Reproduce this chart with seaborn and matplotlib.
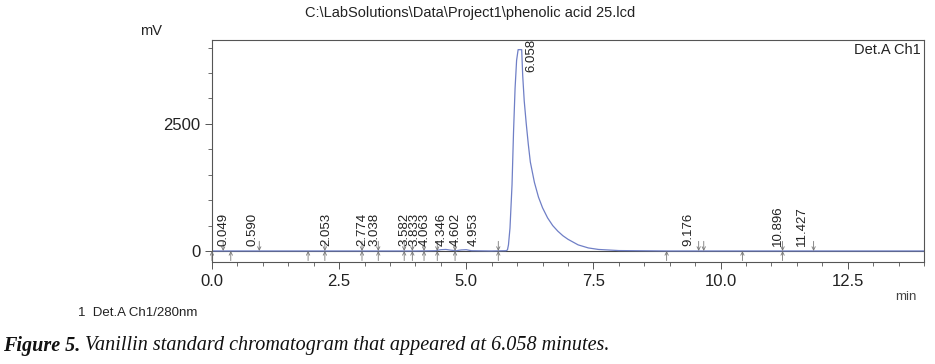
"""Vanillin standard chromatogram (Det.A Ch1, 280 nm) redrawn with seaborn."""

import matplotlib

matplotlib.use("Agg")
import matplotlib.pyplot as plt
import numpy as np
import pandas as pd
import seaborn as sns
from matplotlib.ticker import MultipleLocator

# ---------------------------------------------------------------------------
# Data
# ---------------------------------------------------------------------------
signal_time = [0.0, 0.5, 1.0, 2.0, 3.0, 4.0, 4.4, 4.5, 4.6, 4.7, 4.8, 4.9,
               5.0, 5.1, 5.5, 5.78, 5.81, 5.83, 5.86, 5.90, 5.93, 5.96, 5.99,
               6.02, 6.09, 6.11, 6.14, 6.18, 6.22, 6.26, 6.34, 6.42, 6.5,
               6.6, 6.7, 6.8, 6.9, 7.0, 7.2, 7.4, 7.6, 8.0, 9.0, 10.0, 11.0,
               12.0, 13.0, 14.0]
signal_mv = [0, 0, 0, 0, 0, 0, 5, 25, 30, 15, 5, 20, 25, 5, 0, 5, 20, 120,
             450, 1300, 2350, 3200, 3750, 3960, 3960, 3450, 2950, 2500, 2100,
             1750, 1350, 1060, 850, 650, 500, 390, 300, 230, 120, 60, 30, 8,
             0, 0, 0, 0, 0, 0]

peak_labels = ["0.049", "0.590", "2.053", "2.774", "3.038", "3.582", "3.833",
               "4.063", "4.346", "4.602", "4.953", "6.058", "9.176", "10.896",
               "11.427"]
label_x = [0.22, 0.80, 2.24, 2.95, 3.19, 3.78, 3.98, 4.19, 4.51, 4.80, 5.14,
           6.28, 9.37, 11.12, 11.61]
label_y = [90, 90, 90, 90, 90, 90, 90, 90, 90, 90, 90, 3520, 90, 90, 90]

# integration marks: peak markers (down) and start/end markers (up)
down_marks = [0.22, 0.93, 2.22, 2.95, 3.27, 3.78, 3.94, 4.17, 4.43, 4.78,
              5.63, 9.57, 9.67, 11.22, 11.83]
up_marks = [0.0, 0.37, 1.89, 2.22, 2.95, 3.27, 3.78, 3.94, 4.17, 4.43, 4.78,
            5.63, 8.94, 10.43, 11.22]

title = r"C:\LabSolutions\Data\Project1\phenolic acid 25.lcd"
caption_bold = "Figure 5."
caption_text = " Vanillin standard chromatogram that appeared at 6.058 minutes."

SIGNAL_COLOR = "#6f7fc6"
MARK_COLOR = "#777777"

sns.set_style("ticks")
plt.rcParams["font.family"] = ["Liberation Sans", "DejaVu Sans"]

fig = plt.figure(figsize=(9.35, 3.64), dpi=100)
ax = fig.add_axes([0.2267, 0.2802, 0.7615, 0.6099])

df = pd.DataFrame({"min": signal_time, "mV": signal_mv})
ax.axhline(0, color="#444444", lw=0.8, zorder=1)
sns.lineplot(data=df, x="min", y="mV", ax=ax, color=SIGNAL_COLOR, lw=0.9,
             zorder=2)

for x in down_marks:
    ax.annotate("", xy=(x, 0), xytext=(x, 190),
                arrowprops=dict(arrowstyle="->", color=MARK_COLOR, lw=0.6,
                                mutation_scale=6, shrinkA=0, shrinkB=0))
for x in up_marks:
    ax.annotate("", xy=(x, 0), xytext=(x, -190),
                arrowprops=dict(arrowstyle="->", color=MARK_COLOR, lw=0.6,
                                mutation_scale=6, shrinkA=0, shrinkB=0))

for txt, x, y in zip(peak_labels, label_x, label_y):
    ax.text(x, y, txt, rotation=90, ha="center", va="bottom", fontsize=9.5,
            color="#222222")

ax.set_xlim(0, 14.0)
ax.set_ylim(-217, 4150)
ax.xaxis.set_major_locator(MultipleLocator(2.5))
ax.xaxis.set_minor_locator(MultipleLocator(0.5))
ax.yaxis.set_major_locator(MultipleLocator(2500))
ax.yaxis.set_minor_locator(MultipleLocator(500))
ax.xaxis.set_major_formatter(matplotlib.ticker.FormatStrFormatter("%.1f"))
ax.tick_params(axis="both", which="major", length=5, width=0.7,
               labelsize=12, colors="#555555", labelcolor="#222222")
ax.tick_params(axis="both", which="minor", length=3, width=0.6,
               colors="#555555")
ax.set_xlabel("")
ax.set_ylabel("")
for s in ax.spines.values():
    s.set_visible(True)
    s.set_color("#555555")
    s.set_linewidth(0.8)

ax.text(0.995, 0.985, "Det.A Ch1", transform=ax.transAxes, ha="right",
        va="top", fontsize=10.5, color="#222222")

fig.text(0.503, 0.965, title, ha="center", va="center", fontsize=10.5,
         color="#222222")
fig.text(0.162, 0.915, "mV", ha="center", va="center", fontsize=10.5,
         color="#222222")
fig.text(0.969, 0.183, "min", ha="center", va="center", fontsize=9.5,
         color="#444444")
fig.text(0.083, 0.14, "1  Det.A Ch1/280nm", ha="left", va="center",
         fontsize=9.5, color="#222222")

cap = fig.text(0.003, 0.05, caption_bold, ha="left", va="center",
               fontsize=14.5, family="Liberation Serif", style="italic",
               weight="bold", color="#111111")
fig.canvas.draw()
bb = cap.get_window_extent()
fig.text(bb.x1 / fig.bbox.width, 0.05, caption_text, ha="left",
         va="center", fontsize=14.5, family="Liberation Serif",
         style="italic", color="#111111")

fig.savefig("out.png", dpi=100)
